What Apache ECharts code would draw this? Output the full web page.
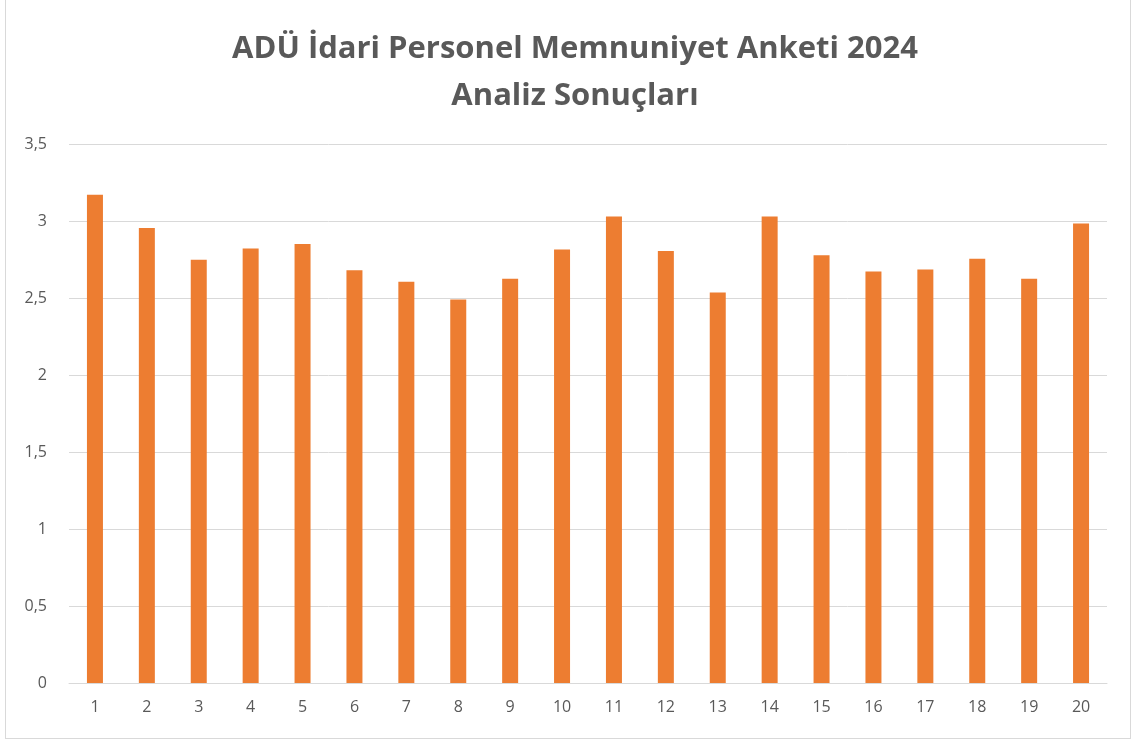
<!DOCTYPE html>
<html>
<head>
<meta charset="utf-8">
<script src="https://cdn.jsdelivr.net/npm/echarts@6/dist/echarts.min.js"></script>
<style>
  html, body { margin: 0; padding: 0; background: #fff; }
  #frame { position: absolute; left: 5px; top: -2px; width: 1124px; height: 739px; border: 1px solid #d9d9d9; }
  #mainChart { position: absolute; left: 0; top: 0; width: 1132px; height: 742px; }
</style>
</head>
<body>
<div id="frame"></div>
<div id="mainChart"></div>
<script>
// soru numaraları
var categories = ["1", "2", "3", "4", "5", "6", "7", "8", "9", "10",
  "11", "12", "13", "14", "15", "16", "17", "18", "19", "20"];
// ortalama puanlar
var scores = [3.17, 2.955, 2.748, 2.822, 2.851, 2.68, 2.606, 2.49, 2.625, 2.815,
  3.03, 2.806, 2.535, 3.03, 2.778, 2.672, 2.685, 2.755, 2.625, 2.983];
var yTicks = [0, 0.5, 1, 1.5, 2, 2.5, 3, 3.5];

var chart = echarts.init(document.getElementById("mainChart"));
var option = {
  animation: false,
  title: {
    text: "ADÜ İdari Personel Memnuniyet Anketi 2024\nAnaliz Sonuçları",
    left: 570,
    textAlign: "center",
    top: 21,
    textStyle: {
      fontFamily: "Open Sans",
      fontWeight: "bold",
      fontSize: 31,
      lineHeight: 47,
      color: "#595959",
    },
  },
  grid: {
    left: 69,
    right: 25,
    top: 144,
    bottom: 59,
  },
  xAxis: {
    type: "category",
    data: categories,
    axisLine: { lineStyle: { color: "#d9d9d9", width: 1 } },
    axisTick: { show: false },
    axisLabel: { color: "#595959", fontSize: 16, fontFamily: "Open Sans", margin: 16 },
  },
  yAxis: {
    type: "value",
    min: yTicks[0],
    max: yTicks[yTicks.length - 1],
    interval: 0.5,
    axisLine: { show: false },
    axisTick: { show: false },
    splitLine: { lineStyle: { color: "#d9d9d9", width: 1 } },
    axisLabel: {
      color: "#595959",
      fontSize: 16,
      fontFamily: "Open Sans",
      margin: 22,
      formatter: function (v) {
        return String(v).replace(".", ",");
      },
    },
  },
  series: [
    {
      type: "bar",
      data: scores,
      barWidth: 16,
      itemStyle: { color: "#ED7D31" },
    },
  ],
};
chart.setOption(option);
</script>
</body>
</html>
